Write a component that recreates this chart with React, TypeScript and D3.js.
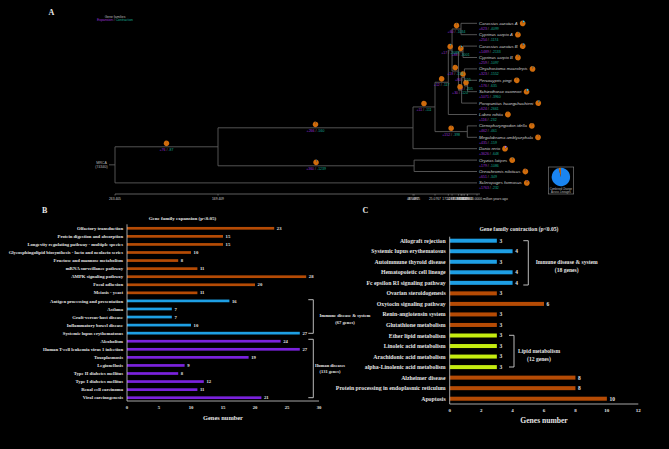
import * as d3 from "d3";

// ---------- panel A : species tree ----------
const tipNames = [
  "Carassius auratus A",
  "Cyprinus carpio A",
  "Carassius auratus B",
  "Cyprinus carpio B",
  "Onychostoma macrolepis",
  "Percocypris pingi",
  "Schizothorax oconnori",
  "Poropuntius huangchuchieni",
  "Labeo rohita",
  "Ctenopharyngodon idella",
  "Megalobrama amblycephala",
  "Danio rerio",
  "Oryzias latipes",
  "Oreochromis niloticus",
  "Scleropages formosus",
];
const tipGain = [623, 254, 1489, 259, 323, 176, 1071, 624, 116, 462, 435, 3626, 179, 651, 1763];
const tipLoss = [4099, 1174, 2133, 1097, 1552, 635, 3960, 2661, 232, 461, 159, 648, 1086, 349, 232];

// internal nodes, children before parents
const clades = [
  { id: "ccA", kids: ["t0", "t1"], age: 9.5521, gain: 60, loss: 1034 },
  { id: "ccB", kids: ["t2", "t3"], age: 8.3609, gain: 88, loss: 3001 },
  { id: "ps", kids: ["t5", "t6"], age: 5.6102, gain: 8, loss: 205 },
  { id: "ops", kids: ["t4", "ps"], age: 7.5216, gain: 80, loss: 155 },
  { id: "bar", kids: ["ops", "t7"], age: 9.1874, gain: 30, loss: 120 },
  { id: "b2", kids: ["ccB", "bar"], age: 11.0837, gain: 18, loss: 134 },
  { id: "cyp", kids: ["ccA", "b2"], age: 14.8952, gain: 17, loss: 2089 },
  { id: "lab", kids: ["cyp", "t8"], age: 17.1263, gain: 12, loss: 117 },
  { id: "xen", kids: ["t9", "t10"], age: 5.7983, gain: 152, loss: 398 },
  { id: "cyn", kids: ["lab", "xen"], age: 25.0767, gain: 11, loss: 111 },
  { id: "cypr", kids: ["cyn", "t11"], age: 48.6697, gain: 266, loss: 560 },
  { id: "acan", kids: ["t12", "t13"], age: 47.4815, gain: 360, loss: 1239 },
  { id: "teleo", kids: ["cypr", "acan"], age: 169.409, gain: 76, loss: 87 },
  { id: "root", kids: ["teleo", "t14"], age: 263.405, gain: 0, loss: 0 },
];
const mrcaFamilies = 74340;
const timeStops = [263.405, 169.409, 48.6697, 25.0767, 0];
const pieRest = 30000;
const combinedShares = [96, 4];

// ---------- panel B : expansion ----------
const bLabels = [
  "Olfactory transduction",
  "Protein digestion and absorption",
  "Longevity regulating pathway - multiple species",
  "Glycosphingolipid biosynthesis - lacto and neolacto series",
  "Fructose and mannose metabolism",
  "mRNA surveillance pathway",
  "AMPK signaling pathway",
  "Focal adhesion",
  "Meiosis - yeast",
  "Antigen processing and presentation",
  "Asthma",
  "Graft-versus-host disease",
  "Inflammatory bowel disease",
  "Systemic lupus erythematosus",
  "Alcoholism",
  "Human T-cell leukemia virus 1 infection",
  "Toxoplasmosis",
  "Legionellosis",
  "Type II diabetes mellitus",
  "Type I diabetes mellitus",
  "Renal cell carcinoma",
  "Viral carcinogenesis",
];
const bValues = [23, 15, 15, 10, 8, 11, 28, 20, 11, 16, 7, 7, 10, 27, 24, 27, 19, 9, 8, 12, 11, 21];
const bGroups = [
  "o", "o", "o", "o", "o", "o", "o", "o", "o",
  "b", "b", "b", "b", "b",
  "p", "p", "p", "p", "p", "p", "p", "p",
];
const bTicks = [0, 5, 10, 15, 20, 25, 30];

// ---------- panel C : contraction ----------
const cLabels = [
  "Allograft rejection",
  "Systemic lupus erythematosus",
  "Autoimmune thyroid disease",
  "Hematopoietic cell lineage",
  "Fc epsilon RI signaling pathway",
  "Ovarian steroidogenesis",
  "Oxytocin signaling pathway",
  "Renin-angiotensin system",
  "Glutathione metabolism",
  "Ether lipid metabolism",
  "Linoleic acid metabolism",
  "Arachidonic acid metabolism",
  "alpha-Linolenic acid metabolism",
  "Alzheimer disease",
  "Protein processing in endoplasmic reticulum",
  "Apoptosis",
];
const cValues = [3, 4, 3, 4, 4, 3, 6, 3, 3, 3, 3, 3, 3, 8, 8, 10];
const cGroups = ["b", "b", "b", "b", "b", "o", "o", "o", "o", "l", "l", "l", "l", "o", "o", "o"];
const cTicks = [0, 2, 4, 6, 8, 10, 12];

const groupColor: Record<string, string> = {
  o: "#b54b05",
  b: "#1e9fe4",
  p: "#7a22dc",
  l: "#c4ec10",
};

const EXP = "#9b30d8";
const CON = "#16a892";
const SANS = "'Liberation Sans', Arial, sans-serif";
const SERIF = "'Liberation Serif', 'Times New Roman', serif";

let ctx: CanvasRenderingContext2D | null = null;
function textWidth(s: string, font: string, size: number) {
  if (!ctx) ctx = document.createElement("canvas").getContext("2d");
  if (!ctx) return s.length * size * 0.45;
  ctx.font = `${font.startsWith("italic") ? "" : ""}${font.replace("SIZE", "50px")}`;
  return (ctx.measureText(s).width / 50) * size;
}

function Pie({ cx, cy, r, values, colors }: { cx: number; cy: number; r: number; values: number[]; colors: string[] }) {
  const arcs = d3.pie<number>().sort(null)(values);
  const arc = d3.arc<d3.PieArcDatum<number>>().innerRadius(0).outerRadius(r);
  return (
    <g transform={`translate(${cx},${cy})`}>
      {arcs.map((a, i) => (
        <path key={i} d={arc(a) ?? undefined} fill={colors[i]} />
      ))}
    </g>
  );
}

function Counts({ x, y, gain, loss, anchor }: { x: number; y: number; gain: number; loss: number; anchor: string }) {
  return (
    <text x={x} y={y} fontSize={3.5} fontFamily={SANS} textAnchor={anchor}>
      <tspan fill={EXP}>+{gain}</tspan>
      <tspan fill="#888"> / </tspan>
      <tspan fill={CON}>-{loss}</tspan>
    </text>
  );
}

function Tree() {
  const x = d3.scaleLinear().domain(timeStops).range([115, 218, 413, 435, 477]);
  const y = d3.scaleLinear().domain([0, tipNames.length - 1]).range([23.3, 182.9]);
  const pos = new Map<string, { x: number; y: number }>();
  tipNames.forEach((_, i) => pos.set("t" + i, { x: x(0), y: y(i) }));
  clades.forEach((c) => {
    const ys = c.kids.map((k) => pos.get(k)!.y);
    pos.set(c.id, { x: x(c.age), y: d3.mean(ys)! });
  });
  const parent = new Map<string, string>();
  clades.forEach((c) => c.kids.forEach((k) => parent.set(k, c.id)));
  const root = pos.get("root")!;
  const line = "#5c5c5c";
  const pieColors = [EXP, "#33c8ee", "#d06c0c"];
  const tipPieColors = ["#b46cff", "#33d0f0", "#d06c0c"];

  const ticks = [...clades.map((c) => c.age), 0];
  const axisY = 194;

  const nameFont = "italic SIZE 'Liberation Sans', Arial, sans-serif";

  return (
    <g>
      {/* branches */}
      {[...parent.entries()].map(([k, p]) => {
        const a = pos.get(k)!;
        const b = pos.get(p)!;
        return <line key={"h" + k} x1={b.x} x2={a.x} y1={a.y} y2={a.y} stroke={line} strokeWidth={0.9} />;
      })}
      {clades.map((c) => {
        const ys = c.kids.map((k) => pos.get(k)!.y);
        const p = pos.get(c.id)!;
        return (
          <line key={"v" + c.id} x1={p.x} x2={p.x} y1={d3.min(ys)} y2={d3.max(ys)} stroke={line} strokeWidth={0.9} />
        );
      })}
      <line x1={root.x - 6} x2={root.x} y1={root.y} y2={root.y} stroke={line} strokeWidth={0.9} />
      <text x={root.x - 13.5} y={root.y - 1.2} fontSize={3.6} fill="#bbb" fontFamily={SANS} textAnchor="middle">
        MRCA
      </text>
      <text x={root.x - 13.5} y={root.y + 3.4} fontSize={3.6} fill="#bbb" fontFamily={SANS} textAnchor="middle">
        ({mrcaFamilies})
      </text>

      {/* branch pies */}
      {clades
        .filter((c) => c.id !== "root")
        .map((c) => {
          const a = pos.get(c.id)!;
          const b = pos.get(parent.get(c.id)!)!;
          const mx = (a.x + b.x) / 2;
          return (
            <g key={"bp" + c.id}>
              <Pie cx={mx} cy={a.y - 3.4} r={2.8} values={[c.gain, c.loss, pieRest]} colors={pieColors} />
              <Counts x={mx} y={a.y + 3.9} gain={c.gain} loss={c.loss} anchor="middle" />
            </g>
          );
        })}

      {/* tips */}
      {tipNames.map((n, i) => {
        const ty = y(i);
        const tx = x(0) + 2;
        const w = textWidth(n, nameFont, 4.3);
        return (
          <g key={"tip" + i}>
            <text x={tx} y={ty + 1.5} fontSize={4.3} fontStyle="italic" fill="#cfcfcf" fontFamily={SANS}>
              {n}
            </text>
            <Counts x={tx} y={ty + 6.4} gain={tipGain[i]} loss={tipLoss[i]} anchor="start" />
            <Pie cx={tx + w + 5} cy={ty} r={2.9} values={[tipGain[i], tipLoss[i], pieRest]} colors={tipPieColors} />
          </g>
        );
      })}

      {/* time axis */}
      <line x1={x(timeStops[0])} x2={x(0) + 3} y1={axisY} y2={axisY} stroke="#888" strokeWidth={0.7} />
      {ticks.map((t, i) => (
        <g key={"tk" + i}>
          <line x1={x(t)} x2={x(t)} y1={axisY} y2={axisY + 1.6} stroke="#999" strokeWidth={0.5} />
          <text x={x(t)} y={axisY + 5.6} fontSize={3.3} fill="#ccc" fontFamily={SANS} textAnchor="middle">
            {t >= 100 ? d3.format(".3f")(t) : d3.format(".4f")(t)}
          </text>
        </g>
      ))}
      <text x={x(0) + 6} y={axisY + 5.6} fontSize={3.3} fill="#ccc" fontFamily={SANS}>
        million years ago
      </text>

      {/* legends */}
      <text x={115} y={17.6} fontSize={3.4} fill="#bbb" fontFamily={SANS} textAnchor="middle">
        Gene families
      </text>
      <text x={115} y={21.4} fontSize={3.4} fontFamily={SANS} textAnchor="middle">
        <tspan fill={EXP}>Expansion</tspan>
        <tspan fill="#888"> / </tspan>
        <tspan fill={CON}>Contraction</tspan>
      </text>
      <rect x={548.3} y={167} width={25.4} height={27} fill="none" stroke="#8a8a8a" strokeWidth={0.6} />
      <Pie cx={560.9} cy={177} r={9.2} values={combinedShares} colors={["#1a84f0", "#d06c0c"]} />
      <text x={560.9} y={189.6} fontSize={2.7} fill="#bbb" fontFamily={SANS} textAnchor="middle">
        Combined Change
      </text>
      <text x={560.9} y={192.6} fontSize={2.7} fill="#bbb" fontFamily={SANS} textAnchor="middle">
        Across Lineages
      </text>
    </g>
  );
}

function Bracket({ x, y1, y2, len }: { x: number; y1: number; y2: number; len: number }) {
  return (
    <path
      d={`M${x - len},${y1}H${x}V${y2}H${x - len}`}
      fill="none"
      stroke="#cfcfcf"
      strokeWidth={0.9}
    />
  );
}

function BarPanel({
  labels,
  values,
  groups,
  ticks,
  left,
  right,
  top,
  bottom,
  axisY,
  barH,
  labelSize,
  valueSize,
  tickSize,
  axisTitleSize,
  title,
  titleX,
  titleSize,
}: {
  labels: string[];
  values: number[];
  groups: string[];
  ticks: number[];
  left: number;
  right: number;
  top: number;
  bottom: number;
  axisY: number;
  barH: number;
  labelSize: number;
  valueSize: number;
  tickSize: number;
  axisTitleSize: number;
  title: string;
  titleX: number;
  titleSize: number;
}) {
  const x = d3.scaleLinear().domain([ticks[0], ticks[ticks.length - 1]]).range([left, right]);
  const y = d3.scalePoint<number>().domain(d3.range(labels.length)).range([top, bottom]);
  const txt = "#e4e4e4";
  return (
    <g fontFamily={SERIF} fontWeight="bold">
      <text x={titleX} y={top - 8.5 - (barH > 3 ? 1 : 0)} fontSize={titleSize} fill={txt} textAnchor="middle">
        {title}
      </text>
      {labels.map((l, i) => {
        const yy = y(i)!;
        return (
          <g key={i}>
            <rect x={x(0)} y={yy - barH / 2} width={x(values[i]) - x(0)} height={barH} fill={groupColor[groups[i]]} />
            <text x={left - 4} y={yy + labelSize * 0.35} fontSize={labelSize} fill={txt} textAnchor="end">
              {l}
            </text>
            <text x={x(values[i]) + 2.6} y={yy + valueSize * 0.35} fontSize={valueSize} fill={txt}>
              {values[i]}
            </text>
          </g>
        );
      })}
      <line x1={left} x2={left} y1={top - 4} y2={axisY} stroke="#cfcfcf" strokeWidth={0.8} />
      <line x1={left} x2={right} y1={axisY} y2={axisY} stroke="#cfcfcf" strokeWidth={0.8} />
      {ticks.map((t) => (
        <text key={t} x={x(t)} y={axisY + 8} fontSize={tickSize} fill={txt} textAnchor="middle">
          {t}
        </text>
      ))}
      <text x={(left + right) / 2} y={axisY + 19.2} fontSize={axisTitleSize} fill={txt} textAnchor="middle">
        Genes number
      </text>
    </g>
  );
}

function GroupNote({ cx, y, size, lines }: { cx: number; y: number; size: number; lines: string[] }) {
  return (
    <g fontFamily={SERIF} fontWeight="bold" fill="#e4e4e4" fontSize={size}>
      {lines.map((l, i) => (
        <text key={i} x={cx} y={y + i * size * 1.5} textAnchor="middle">
          {l}
        </text>
      ))}
    </g>
  );
}

export default function App() {
  return (
    <div>
      <style>{`html,body{margin:0;padding:0;background:#000;}`}</style>
      <svg width={669} height={449} style={{ display: "block", background: "#000" }}>
        <g fontFamily={SERIF} fontWeight="bold" fill="#e8e8e8" fontSize={8}>
          <text x={48.5} y={15}>A</text>
          <text x={42} y={212.5}>B</text>
          <text x={362.5} y={212.5}>C</text>
        </g>
        <Tree />
        <BarPanel
          labels={bLabels}
          values={bValues}
          groups={bGroups}
          ticks={bTicks}
          left={127}
          right={319}
          top={228.3}
          bottom={397.7}
          axisY={401}
          barH={2.7}
          labelSize={4.7}
          valueSize={4.7}
          tickSize={4.7}
          axisTitleSize={6.4}
          title="Gene family expansion (p<0.05)"
          titleX={182.5}
          titleSize={5}
        />
        <Bracket x={313.3} y1={299.7} y2={333.3} len={5} />
        <Bracket x={313.3} y1={339.3} y2={397.7} len={5} />
        <GroupNote cx={345} y={317.3} size={4.6} lines={["Immune disease & system", "(67 genes)"]} />
        <GroupNote cx={330} y={366.8} size={4.4} lines={["Human diseases", "(131 genes)"]} />

        <BarPanel
          labels={cLabels}
          values={cValues}
          groups={cGroups}
          ticks={cTicks}
          left={449.7}
          right={638.3}
          top={240.7}
          bottom={398.7}
          axisY={404}
          barH={4}
          labelSize={5.8}
          valueSize={5.5}
          tickSize={5}
          axisTitleSize={7.6}
          title="Gene family contraction (p<0.05)"
          titleX={519}
          titleSize={5.6}
        />
        <Bracket x={528.3} y1={240.7} y2={285} len={5} />
        <Bracket x={514} y1={335.3} y2={367} len={5} />
        <GroupNote cx={566.7} y={263.5} size={5.6} lines={["Immune disease & system", "(18 genes)"]} />
        <GroupNote cx={539} y={352.5} size={5.6} lines={["Lipid metabolism", "(12 genes)"]} />
      </svg>
    </div>
  );
}
